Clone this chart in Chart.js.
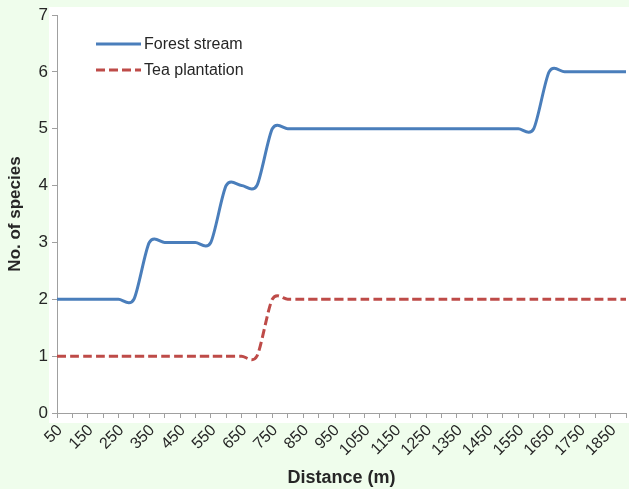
<!DOCTYPE html>
<html>
<head>
<meta charset="utf-8">
<script src="https://cdn.jsdelivr.net/npm/chart.js@4.4.1/dist/chart.umd.min.js"></script>
<style>
  html, body { margin: 0; padding: 0; background: #effdec; }
  #wrap { width: 629px; height: 489px; position: relative; }
</style>
</head>
<body>
<div id="wrap"><canvas id="chart" width="629" height="489"></canvas></div>
<script>
const distances = [50, 100, 150, 200, 250, 300, 350, 400, 450, 500, 550, 600, 650, 700, 750, 800,
  850, 900, 950, 1000, 1050, 1100, 1150, 1200, 1250, 1300, 1350, 1400, 1450, 1500, 1550, 1600,
  1650, 1700, 1750, 1800, 1850, 1900];

const forestStream = [2, 2, 2, 2, 2, 2, 3, 3, 3, 3, 3, 4, 4, 4, 5, 5,
  5, 5, 5, 5, 5, 5, 5, 5, 5, 5, 5, 5, 5, 5, 5, 5,
  6, 6, 6, 6, 6, 6];

const teaPlantation = [1, 1, 1, 1, 1, 1, 1, 1, 1, 1, 1, 1, 1, 1, 2, 2,
  2, 2, 2, 2, 2, 2, 2, 2, 2, 2, 2, 2, 2, 2, 2, 2,
  2, 2, 2, 2, 2, 2];

const COLORS = {
  forest: "#4a7ebb",
  tea: "#be4b48",
  axis: "#a0a0a0",
  ink: "#262626",
};

const FONT = "'Liberation Sans', Arial, sans-serif";

// Excel-style smoothing: uniform Catmull-Rom handles instead of Chart.js'
// distance-weighted ones (those kink badly on the tall steps)
const SMOOTH_K = 0.14;
const smoothPlugin = {
  id: "excelSmooth",
  beforeDatasetDraw(chart, args) {
    const meta = args.meta;
    meta.dataset.updateControlPoints(chart.chartArea, meta.iScale.axis);
    const pts = meta.data;
    for (let i = 0; i < pts.length; i++) {
      const prev = pts[Math.max(i - 1, 0)];
      const next = pts[Math.min(i + 1, pts.length - 1)];
      const dx = (next.x - prev.x) * SMOOTH_K;
      const dy = (next.y - prev.y) * SMOOTH_K;
      pts[i].cp1x = pts[i].x - dx;
      pts[i].cp1y = pts[i].y - dy;
      pts[i].cp2x = pts[i].x + dx;
      pts[i].cp2y = pts[i].y + dy;
    }
  },
};

// white plot panel behind the axes, like the original figure
const panelPlugin = {
  id: "panel",
  beforeDraw(chart) {
    const { ctx, chartArea } = chart;
    ctx.save();
    ctx.fillStyle = "#ffffff";
    ctx.fillRect(chartArea.left - 8, chartArea.top - 8, chart.width - chartArea.left + 8, chartArea.bottom - chartArea.top + 18);
    ctx.restore();
  },
};

// vertical legend inside the plot, top-left
const insideLegend = {
  id: "insideLegend",
  afterDraw(chart) {
    const { ctx } = chart;
    ctx.save();
    ctx.font = `16px ${FONT}`;
    ctx.textBaseline = "middle";
    chart.data.datasets.forEach((ds, i) => {
      const y = 44 + i * 26;
      ctx.strokeStyle = ds.borderColor;
      ctx.lineWidth = ds.borderWidth;
      ctx.setLineDash(ds.borderDash || []);
      ctx.beginPath();
      ctx.moveTo(96, y);
      ctx.lineTo(141, y);
      ctx.stroke();
      ctx.setLineDash([]);
      ctx.fillStyle = COLORS.ink;
      ctx.fillText(ds.label, 144, y + 1);
    });
    ctx.restore();
  },
};

new Chart(document.getElementById("chart"), {
  type: "line",
  data: {
    labels: distances,
    datasets: [
      {
        label: "Forest stream",
        data: forestStream,
        borderColor: COLORS.forest,
        borderWidth: 3,
        pointRadius: 0,
        tension: 0.4,
      },
      {
        label: "Tea plantation",
        data: teaPlantation,
        borderColor: COLORS.tea,
        borderWidth: 3,
        borderDash: [9, 4],
        pointRadius: 0,
        tension: 0.4,
      },
    ],
  },
  options: {
    responsive: false,
    animation: false,
    layout: { padding: { top: 15, right: 3 } },
    plugins: {
      legend: { display: false },
      tooltip: { enabled: false },
    },
    scales: {
      x: {
        afterFit(scale) {
          scale.height = 76;
          scale.paddingRight = 0;
        },
        grid: { drawOnChartArea: false, drawTicks: true, tickLength: 5, color: COLORS.axis },
        border: { color: COLORS.axis, width: 1 },
        ticks: {
          autoSkip: false,
          maxRotation: 45,
          minRotation: 45,
          padding: 3,
          labelOffset: 3,
          color: COLORS.ink,
          font: { family: FONT, size: 16 },
          callback: (val, i) => (i % 2 === 0 ? distances[i] : ""),
        },
        title: {
          display: true,
          text: "Distance (m)",
          color: COLORS.ink,
          font: { family: FONT, size: 18, weight: "bold" },
          padding: { top: 2, bottom: 0 },
        },
      },
      y: {
        min: 0,
        max: 7,
        afterFit(scale) { scale.width = 57; },
        grid: { drawOnChartArea: false, drawTicks: true, tickLength: 5, color: COLORS.axis },
        border: { color: COLORS.axis, width: 1 },
        ticks: {
          stepSize: 1,
          padding: 4,
          color: COLORS.ink,
          font: { family: FONT, size: 17 },
        },
        title: {
          display: true,
          text: "No. of species",
          color: COLORS.ink,
          font: { family: FONT, size: 17, weight: "bold" },
          padding: { top: 5, bottom: 4 },
        },
      },
    },
  },
  plugins: [panelPlugin, smoothPlugin, insideLegend],
});
</script>
</body>
</html>
